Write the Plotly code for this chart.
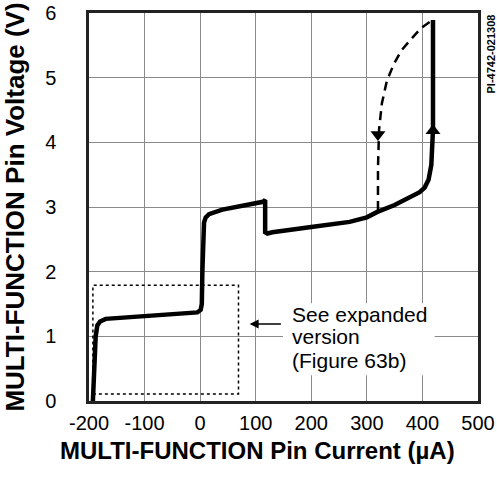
import plotly.graph_objects as go

# Main (solid) I-V curve
main_x = [-193, -191, -188, -185, -180, -170, -100, -5, 1, 3, 4, 5, 7, 10, 16, 40, 80, 113, 117, 117, 121, 130, 200, 269, 300, 318, 350, 377, 395, 404, 411, 416, 418, 419, 419]
main_y = [0.0, 0.5, 1.0, 1.17, 1.23, 1.27, 1.31, 1.37, 1.41, 1.5, 2.0, 2.5, 2.76, 2.84, 2.89, 2.96, 3.02, 3.08, 3.11, 2.61, 2.59, 2.61, 2.69, 2.77, 2.84, 2.92, 3.03, 3.14, 3.23, 3.3, 3.42, 3.65, 3.9, 4.2, 5.89]

# Dashed return curve
dash_x = [413, 398, 380, 362, 348, 336, 327, 322, 320, 320]
dash_y = [5.86, 5.77, 5.6, 5.42, 5.2, 4.95, 4.6, 4.2, 3.6, 2.95]

# Dotted "expanded region" box
box_x = [-193, 69, 69, -193, -193]
box_y = [0.11, 0.11, 1.79, 1.79, 0.11]

# Direction arrows
up_arrow = (419, 4.18)
down_arrow = (320, 4.12)

# Note text lines
note_lines = ["See expanded", "version", "(Figure 63b)"]
note_y = [1.33, 0.99, 0.63]

x_ticks = [-200, -100, 0, 100, 200, 300, 400, 500]
x_tick_labels = ["-200", "-100", "0", "100", "200", "300", "400", "500"]
y_ticks = [0, 1, 2, 3, 4, 5, 6]

FONT = "Liberation Sans, Arial, Helvetica, sans-serif"

fig = go.Figure()
fig.add_trace(go.Scatter(x=box_x, y=box_y, mode="lines",
                         line=dict(color="black", width=1.5, dash="3px,3px"),
                         hoverinfo="skip"))
fig.add_trace(go.Scatter(x=main_x, y=main_y, mode="lines",
                         line=dict(color="black", width=4.5),
                         hoverinfo="skip"))
fig.add_trace(go.Scatter(x=dash_x, y=dash_y, mode="lines",
                         line=dict(color="black", width=2.5, dash="9px,6px"),
                         hoverinfo="skip"))
fig.add_trace(go.Scatter(x=[up_arrow[0]], y=[up_arrow[1]], mode="markers",
                         marker=dict(symbol="triangle-up", size=13, color="black"),
                         hoverinfo="skip"))
fig.add_trace(go.Scatter(x=[down_arrow[0]], y=[down_arrow[1]], mode="markers",
                         marker=dict(symbol="triangle-down", size=13, color="black"),
                         hoverinfo="skip"))

# white area behind the note (hides gridlines)
fig.add_shape(type="rect", x0=149, x1=422, y0=0.40, y1=1.51, xref="x", yref="y",
              fillcolor="white", line=dict(width=0), layer="between")

for txt, yy in zip(note_lines, note_y):
    fig.add_annotation(x=161, y=yy, xref="x", yref="y", xanchor="left", yanchor="middle",
                       text=txt, showarrow=False, align="left",
                       font=dict(family=FONT, size=21, color="black"))
fig.add_annotation(x=89, y=1.19, ax=148, ay=1.19, xref="x", yref="y", axref="x", ayref="y",
                   text="", showarrow=True, arrowhead=2, arrowsize=1.2, arrowwidth=1.5,
                   arrowcolor="black")

fig.add_annotation(x=1.0 + (490 - 478) / 389, y=1.0, xref="paper", yref="paper",
                   text="<b>PI-4742-021308</b>",
                   showarrow=False, textangle=-90, xanchor="center", yanchor="top",
                   font=dict(family=FONT, size=11, color="black"))

# x-axis title (slightly left of the plot centre, as in the original)
fig.add_annotation(x=(257 - 89) / 389, y=(401 - 450) / 388, xref="paper", yref="paper",
                   text="<b>MULTI-FUNCTION Pin Current (µA)</b>", showarrow=False,
                   xanchor="center", yanchor="middle",
                   font=dict(family=FONT, size=24, color="black"))

fig.update_layout(
    width=497, height=483,
    margin=dict(l=89, r=19, t=13, b=82),
    paper_bgcolor="white", plot_bgcolor="white",
    showlegend=False,
    font=dict(family=FONT, color="black"),
)
fig.update_xaxes(range=[-200, 500], tickvals=x_ticks, ticktext=x_tick_labels, ticks="",
                 showgrid=True, automargin=False,
                 gridcolor="#8a8a8a", gridwidth=1, zeroline=False,
                 showline=True, linecolor="#222", linewidth=2.5, mirror=True,
                 tickfont=dict(size=20, family=FONT), ticklabelstandoff=2)
fig.update_yaxes(range=[0, 6], tickvals=y_ticks, ticks="", showgrid=True, automargin=False,
                 gridcolor="#8a8a8a", gridwidth=1, zeroline=False,
                 showline=True, linecolor="#222", linewidth=2.5, mirror=True,
                 tickfont=dict(size=20, family=FONT), ticklabelstandoff=26,
                 title=dict(text="<b>MULTI-FUNCTION Pin Voltage (V)</b>",
                            font=dict(size=26, family=FONT), standoff=16))

fig.write_html("out.html", config={"displayModeBar": False},
               post_script="document.body.style.margin='0';")
